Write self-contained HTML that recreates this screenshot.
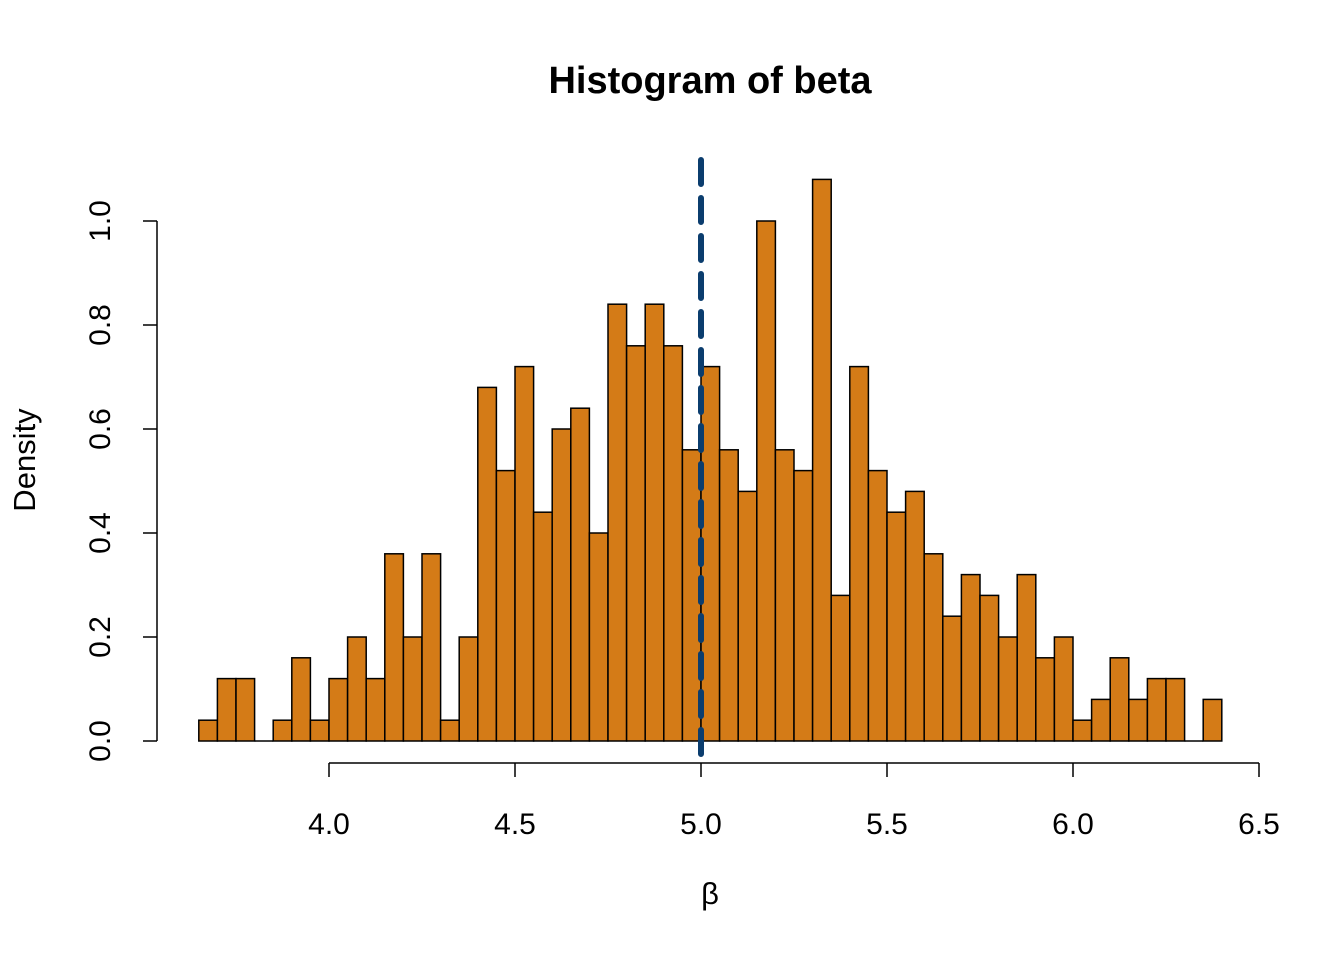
<!DOCTYPE html>
<html><head><meta charset="utf-8"><style>
html,body{margin:0;padding:0;background:#fff;}
svg{display:block;font-family:"Liberation Sans",Arial,sans-serif;}
</style></head><body>
<svg id="chart" width="1344" height="960" viewBox="0 0 1344 960">
<text x="710" y="93" text-anchor="middle" font-size="38" font-weight="bold">Histogram of beta</text>
<g id="bars"></g>
<g id="yaxis"></g>
<g id="xaxis"></g>
<text x="710" y="904" text-anchor="middle" font-size="31">β</text>
<text transform="translate(35,460) rotate(-90)" text-anchor="middle" font-size="31">Density</text>
<g id="ref"></g>
</svg>
<script>
const binStart = 3.65;
const binWidth = 0.05;
const densities = [0.04,0.12,0.12,0,0.04,0.16,0.04,0.12,0.20,0.12,0.36,0.20,0.36,0.04,0.20,0.68,0.52,0.72,0.44,0.60,0.64,0.40,0.84,0.76,0.84,0.76,0.56,0.72,0.56,0.48,1.00,0.56,0.52,1.08,0.28,0.72,0.52,0.44,0.48,0.36,0.24,0.32,0.28,0.20,0.32,0.16,0.20,0.04,0.08,0.16,0.08,0.12,0.12,0,0.08];
const xTicks = [4.0,4.5,5.0,5.5,6.0,6.5];
const xTickLabels = ["4.0","4.5","5.0","5.5","6.0","6.5"];
const yTicks = [0,0.2,0.4,0.6,0.8,1.0];
const yTickLabels = ["0.0","0.2","0.4","0.6","0.8","1.0"];
const refValue = 5.0;

const NS = "http://www.w3.org/2000/svg";
const xs = v => 329 + (v - 4.0) * 372;
const ys = v => 741 - v * 520;
function mk(tag, attrs, parent){const e=document.createElementNS(NS,tag);for(const k in attrs)e.setAttribute(k,attrs[k]);parent.appendChild(e);return e;}

const bars = document.getElementById('bars');
densities.forEach((d,i)=>{
  const x0 = xs(binStart + i*binWidth), x1 = xs(binStart + (i+1)*binWidth);
  if (d > 0) {
    const r = mk('rect',{x:x0,y:ys(d),width:x1-x0,height:ys(0)-ys(d),fill:'#d47b17',stroke:'#000','stroke-width':1.5},bars);
    
    
  } else {
    const r = mk('line',{x1:x0,x2:x1,y1:ys(0),y2:ys(0),stroke:'#000','stroke-width':1.5},bars);
    
    
  }
});

const ya = document.getElementById('yaxis');
mk('line',{x1:157,x2:157,y1:ys(yTicks[0]),y2:ys(yTicks[yTicks.length-1]),stroke:'#000','stroke-width':1.5},ya);
yTicks.forEach((t,i)=>{
  mk('line',{x1:143,x2:157,y1:ys(t),y2:ys(t),stroke:'#000','stroke-width':1.5},ya);
  const tx = mk('text',{transform:`translate(110,${ys(t)}) rotate(-90)`,'text-anchor':'middle','font-size':30},ya);
  tx.textContent = yTickLabels[i];
  
  
});

const xa = document.getElementById('xaxis');
mk('line',{x1:xs(xTicks[0]),x2:xs(xTicks[xTicks.length-1]),y1:763,y2:763,stroke:'#000','stroke-width':1.5},xa);
xTicks.forEach((t,i)=>{
  mk('line',{x1:xs(t),x2:xs(t),y1:763,y2:777,stroke:'#000','stroke-width':1.5},xa);
  const tx = mk('text',{x:xs(t),y:834,'text-anchor':'middle','font-size':30},xa);
  tx.textContent = xTickLabels[i];
  
  
});

const ref = document.getElementById('ref');
const rl = mk('line',{x1:xs(refValue),x2:xs(refValue),y1:160,y2:760,stroke:'#0b3d6e','stroke-width':6,'stroke-linecap':'round','stroke-dasharray':'24 14'},ref);


</script>
</body></html>
